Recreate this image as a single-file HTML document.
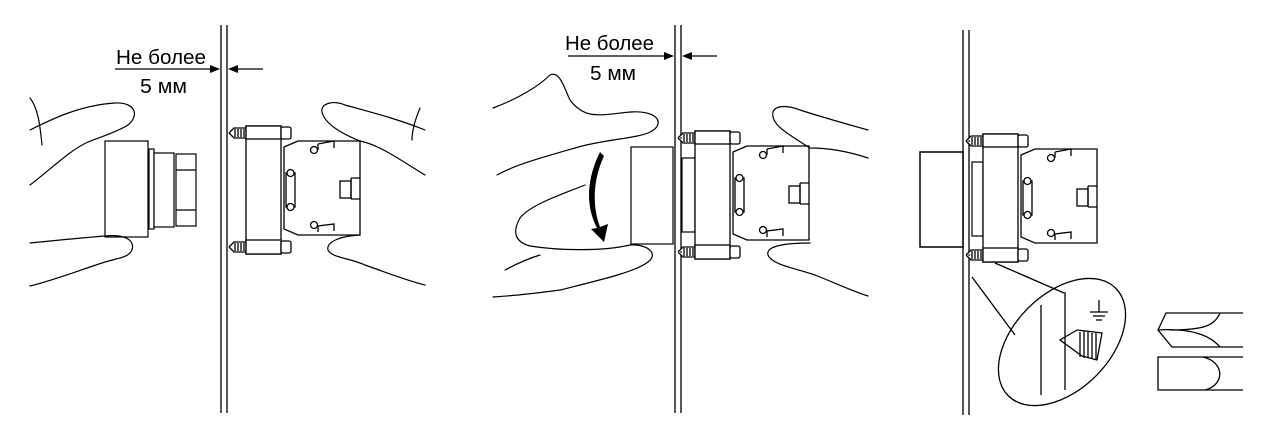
<!DOCTYPE html>
<html><head><meta charset="utf-8"><style>
html,body{margin:0;padding:0;background:#fff;}
svg{display:block;}
text{font-family:"Liberation Sans",sans-serif;font-size:20px;fill:#000;}
</style></head><body>
<svg width="1265" height="426" viewBox="0 0 1265 426" xmlns="http://www.w3.org/2000/svg">
<defs>
<g id="blk" fill="#fff" stroke="#000" stroke-width="1.3">
  <rect x="0" y="0" width="35" height="128"/>
  <rect x="0" y="0" width="35" height="13"/>
  <rect x="0" y="114" width="35" height="14"/>
  <path d="M-17,7 L-12,2 L0,2 M-17,7 L-12,12 L0,12 M-11,3 L-11,11 M-8,3 L-8,11 M-5,3 L-5,11 M-2,3 L-2,11"/>
  <path d="M-17,121 L-12,116 L0,116 M-17,121 L-12,126 L0,126 M-11,117 L-11,125 M-8,117 L-8,125 M-5,117 L-5,125 M-2,117 L-2,125"/>
  <rect x="35" y="1" width="10" height="12" rx="2"/>
  <rect x="35" y="115" width="10" height="12" rx="2"/>
  <path d="M38,21 L52,15 L114,15 L114,109 L52,109 L38,103 Z"/>
  <circle cx="68" cy="24" r="3.5"/>
  <circle cx="68" cy="99" r="3.5"/>
  <path d="M72,18 L72,24 M72,18 L88,15 L88,22" fill="none"/>
  <path d="M72,106 L72,100 L88,98 L88,105" fill="none"/>
  <rect x="40" y="47" width="9" height="34"/>
  <circle cx="44.5" cy="47" r="3.5"/>
  <circle cx="44.5" cy="81" r="3.5"/>
  <rect x="94" y="55" width="11" height="17"/>
  <path d="M105,52 L114,52 M105,73 L114,73 M105,52 L105,73" fill="none"/>
</g>
</defs>

<g fill="none" stroke="#000" stroke-width="1.3">
  <line x1="221" y1="25" x2="221" y2="413"/><line x1="227" y1="25" x2="227" y2="413"/>
  <line x1="115" y1="69" x2="216" y2="69"/>
  <line x1="232" y1="69" x2="263" y2="69"/>
  <line x1="675" y1="25" x2="675" y2="413"/><line x1="681" y1="25" x2="681" y2="413"/>
  <line x1="568" y1="56" x2="670" y2="56"/>
  <line x1="686" y1="56" x2="717" y2="56"/>
  <line x1="963" y1="30" x2="963" y2="415"/><line x1="969" y1="30" x2="969" y2="415"/>
</g>
<path d="M220,69 L210,65 L210,73 Z M228,69 L238,65 L238,73 Z M674,56 L664,52 L664,60 Z M682,56 L692,52 L692,60 Z" fill="#000"/>

<text x="116" y="64" textLength="90" lengthAdjust="spacingAndGlyphs">Не более</text>
<text x="140" y="93" textLength="47" lengthAdjust="spacingAndGlyphs">5 мм</text>
<text x="565" y="50" textLength="89" lengthAdjust="spacingAndGlyphs">Не более</text>
<text x="590" y="80" textLength="46" lengthAdjust="spacingAndGlyphs">5 мм</text>

<g fill="#fff" stroke="#000" stroke-width="1.2">
  <rect x="105" y="141" width="43" height="96"/>
  <rect x="149" y="149" width="5" height="80"/>
  <rect x="154" y="153" width="20" height="74"/>
  <rect x="176" y="154" width="20" height="72"/>
  <line x1="176" y1="170" x2="196" y2="170"/><line x1="176" y1="210" x2="196" y2="210"/>
  <rect x="631" y="147" width="42" height="97"/>
  <rect x="682" y="158" width="13" height="74"/>
  <rect x="920" y="152" width="43" height="95" stroke-width="1.5"/>
  <rect x="972" y="162" width="11" height="74"/>
</g>

<use href="#blk" x="246" y="126"/>
<use href="#blk" x="695" y="131"/>
<use href="#blk" x="983" y="134"/>

<g fill="none" stroke="#000" stroke-width="1.2" stroke-linecap="round">
  <path d="M30,130 C50,120 80,105 115,103 C135,102 140,115 128,125 C115,133 100,137 88,142 C70,150 50,170 30,185"/>
  <path d="M30,98 C38,108 40,125 42,145"/>
  <path d="M30,243 C60,240 80,238 105,236 C125,234 135,240 132,250 C128,258 118,258 105,262 C80,270 55,280 30,286"/>
  <path d="M425,175 C400,160 380,145 360,141 C345,135 325,125 322,112 C320,103 335,100 345,105 C370,112 395,118 425,130"/>
  <path d="M420,108 C415,120 412,130 412,140"/>
  <path d="M360,235 C340,236 326,242 328,250 C332,258 350,258 365,265 C385,272 405,280 425,285"/>
  <path d="M493,108 C520,98 540,85 550,75 C560,70 565,90 570,100 C585,120 600,115 630,112 C660,110 665,125 650,132 C640,138 600,140 575,148 C540,158 515,165 497,175"/>
  <path d="M520,218 C530,205 560,195 585,185"/>
  <path d="M520,218 C512,232 515,242 530,246 C555,250 600,252 630,245 C650,244 658,255 648,262 C635,272 600,280 560,290 C530,294 510,296 493,297"/>
  <path d="M505,270 C520,262 530,258 540,255"/>
  <path d="M868,158 C850,152 830,148 810,148 C790,135 770,125 773,112 C776,104 790,106 800,110 C825,118 850,125 868,130"/>
  <path d="M810,243 C790,243 765,245 768,255 C772,265 795,268 815,275 C835,283 855,292 868,296"/>
</g>

<path d="M600,152 L604,156 C593,180 592,205 600,227 L608,224 L604,242 L591,229 L597,228 C585,205 587,178 600,152 Z" fill="#000"/>

<g fill="none" stroke="#000" stroke-width="1.3">
  <line x1="972" y1="277" x2="1015" y2="335"/>
  <line x1="995" y1="263" x2="1064" y2="293"/>
  <ellipse cx="1062" cy="342" rx="76" ry="48" transform="rotate(-45 1062 342)"/>
  <line x1="1041" y1="305" x2="1041" y2="395"/>
  <line x1="1065" y1="292" x2="1065" y2="390"/>
  <line x1="1099" y1="300" x2="1099" y2="312"/>
  <line x1="1090" y1="312" x2="1108" y2="312"/>
  <line x1="1093" y1="316" x2="1105" y2="316"/>
  <line x1="1096" y1="320" x2="1102" y2="320"/>
  <path d="M1060,340 L1077,330 L1102,333 L1097,360 L1082,356 Z"/>
  <path d="M1080,332 L1080,357 M1084,331 L1084,358 M1088,332 L1088,358 M1092,333 L1092,359 M1096,333 L1096,359"/>
  <path d="M1243,313 L1166,313 L1158,330 L1172,347 L1243,347"/>
  <path d="M1158,330 C1190,328 1210,335 1220,347 M1220,313 C1215,325 1205,330 1170,330"/>
  <path d="M1243,357 L1158,357 L1158,390 L1243,390"/>
  <path d="M1203,357 C1225,362 1225,385 1205,390"/>
</g>
</svg>
</body></html>
